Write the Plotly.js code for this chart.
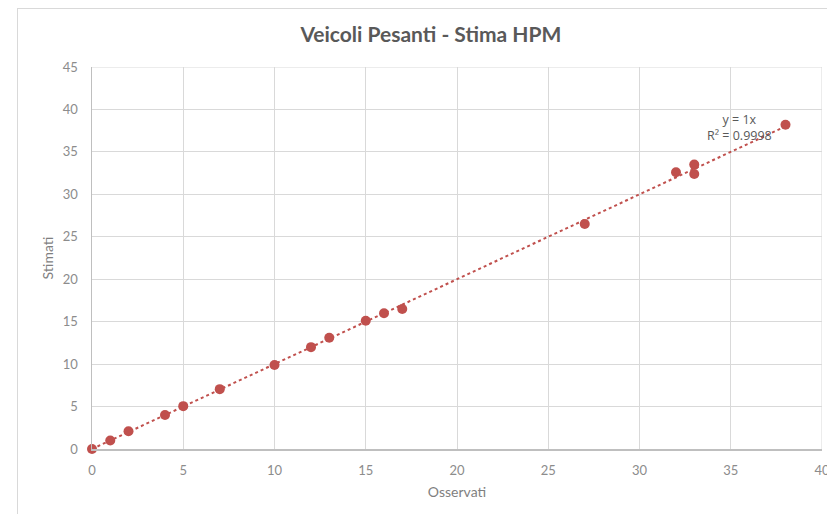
<!DOCTYPE html>
<html>
<head>
<meta charset="utf-8">
<script src="https://cdn.plot.ly/plotly-3.0.1.min.js"></script>
<style>
  html, body { margin: 0; padding: 0; background: #ffffff; overflow: hidden; }
  #frame { position: absolute; left: 17px; top: 8px; width: 900px; height: 600px; border: 1px solid #d9d9d9; }
  #chart { position: absolute; left: 0; top: 0; width: 827px; height: 514px; }
</style>
</head>
<body>
<div id="frame"></div>
<div id="chart"></div>
<script>
// Data
const osservati = [0, 1, 2, 4, 5, 7, 10, 12, 13, 15, 16, 17, 27, 32, 33, 33, 38];
const stimati   = [0, 1, 2.1, 4, 5.05, 7.05, 9.9, 12, 13.1, 15.1, 16, 16.5, 26.5, 32.6, 33.5, 32.4, 38.2];
const trendSlope = 1;            // y = 1x (trend line through origin)
const trendLabel = ["y = 1x", "R\u00B2 = 0.9998"];
const xTicks = [0, 5, 10, 15, 20, 25, 30, 35, 40];
const yTicks = [0, 5, 10, 15, 20, 25, 30, 35, 40, 45];

const red = "#c0504d";
const xMax = Math.max(...osservati);
const trendX = [0, xMax];
const trendY = trendX.map(v => trendSlope * v);

const traces = [
  {
    x: trendX, y: trendY, type: "scatter", mode: "lines",
    line: { color: red, width: 2, dash: "dot" },
    hoverinfo: "skip", showlegend: false, cliponaxis: false
  },
  {
    x: osservati, y: stimati, type: "scatter", mode: "markers",
    marker: { color: red, size: 10 },
    showlegend: false, cliponaxis: false
  }
];

const tickFont = { family: "Lato, 'DejaVu Sans', sans-serif", size: 13, color: "#8c8c8c" };
const layout = {
  width: 827, height: 514,
  paper_bgcolor: "rgba(0,0,0,0)",
  plot_bgcolor: "rgba(0,0,0,0)",
  margin: { l: 92, r: 5, t: 67, b: 65 },
  title: {
    text: "Veicoli Pesanti - Stima HPM",
    font: { family: "Lato, 'DejaVu Sans', sans-serif", size: 21, color: "#595959", weight: "bold" },
    x: 0.521, xref: "container", xanchor: "center",
    y: 1 - 35 / 514, yref: "container", yanchor: "middle"
  },
  xaxis: {
    range: [0, 40], tickvals: xTicks, ticktext: xTicks.map(String),
    showgrid: true, gridcolor: "#d9d9d9", gridwidth: 1,
    zeroline: false, showline: true, linecolor: "#bfbfbf", linewidth: 1.5,
    ticks: "", ticklabelstandoff: 9, tickfont: tickFont, ticklabeloverflow: "allow",
    automargin: false,
    title: { text: "Osservati", font: { family: "Lato, 'DejaVu Sans', sans-serif", size: 14, color: "#7f7f7f" }, standoff: 10 }
  },
  yaxis: {
    range: [0, 45], tickvals: yTicks, ticktext: yTicks.map(String),
    showgrid: true, gridcolor: "#d9d9d9", gridwidth: 1,
    zeroline: false, showline: true, linecolor: "#bfbfbf", linewidth: 1.5,
    ticks: "", ticklabelstandoff: 10, tickfont: tickFont,
    automargin: false,
    title: { text: "Stimati", font: { family: "Lato, 'DejaVu Sans', sans-serif", size: 14, color: "#7f7f7f" }, standoff: 6 }
  },
  shapes: [
    { type: "line", xref: "x", yref: "y", x0: 0, x1: 40, y0: 45, y1: 45, line: { color: "#d9d9d9", width: 1 }, layer: "below" },
    { type: "line", xref: "x", yref: "y", x0: 40, x1: 40, y0: 0, y1: 45, line: { color: "#d9d9d9", width: 1 }, layer: "below" }
  ],
  annotations: [
    {
      x: 35.5, y: 37.9, xref: "x", yref: "y", xanchor: "center", yanchor: "middle",
      text: trendLabel.join("<br>"), showarrow: false, align: "center",
      font: { family: "'Open Sans', 'Liberation Sans', sans-serif", size: 12.5, color: "#595959" }
    }
  ]
};

Plotly.newPlot("chart", traces, layout, { displayModeBar: false, staticPlot: true });
</script>
</body>
</html>
